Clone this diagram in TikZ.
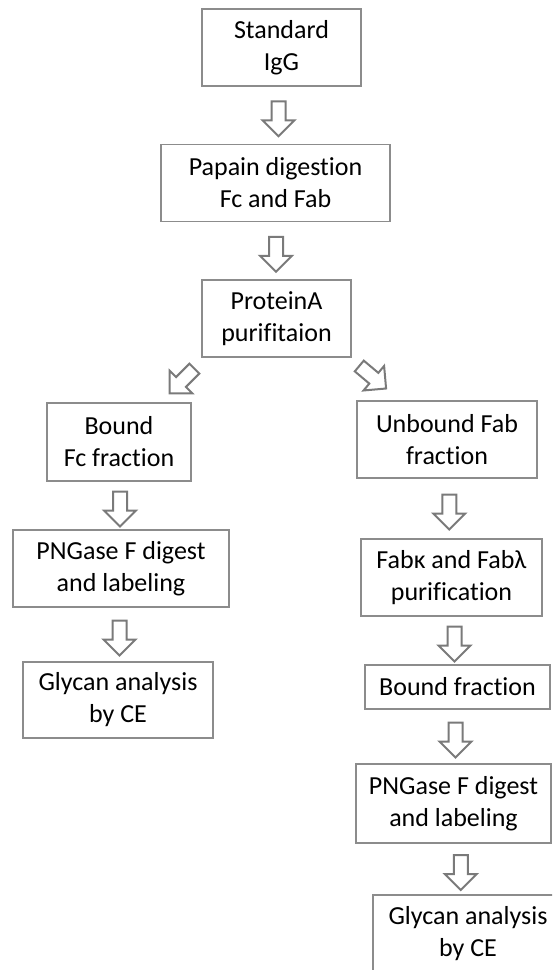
\documentclass[tikz,border=0pt]{standalone}
\usepackage{fontspec}
\setmainfont{Carlito}[Ligatures=NoCommon]
\usetikzlibrary{shapes.arrows,calc}
\definecolor{BoxGray}{HTML}{8C8C8C}
\definecolor{ArrowGray}{HTML}{7A7A7A}

\begin{document}
\begin{tikzpicture}[x=1pt,y=-1pt,
  stage/.style={draw=BoxGray,line width=1.3pt,fill=white,align=center,inner sep=0pt,font=\fontsize{26}{32}\selectfont,minimum height=77pt},
  flow/.style={single arrow,draw=ArrowGray,line width=2pt,fill=white,inner sep=6pt,minimum height=35pt,single arrow head extend=9pt,rotate=#1},
  flow/.default=-90]
\useasboundingbox (0,0) rectangle (552,970);
\clip (0,0) rectangle (552,970);
% common trunk and Fc branch
\node[stage,minimum width=159pt](igg) at (281.5,47.5){Standard\\IgG};
\node[stage,minimum width=229pt](papain) at (275.5,183){Papain digestion\\Fc and Fab};
\node[stage,minimum width=149pt](protA) at (276.5,318.5){ProteinA\\purifitaion};
\node[stage,minimum width=144pt,minimum height=78pt](fc) at (119,442){Bound\\Fc fraction};
\node[stage,minimum width=216pt](pngL) at (121,568.5){PNGase F digest\\and labeling};
\node[stage,minimum width=190pt,minimum height=76pt](glyL) at (118,700){Glycan analysis\\by CE};
% Fab branch
\node[stage,minimum width=180pt](fab) at (447,439.5){Unbound Fab\\fraction};
\node[stage,minimum width=181pt](kl) at (451.5,577.5){Fabκ and Fabλ\\purification};
\node[stage,minimum width=185pt,minimum height=44pt](bound) at (457.5,687){Bound fraction};
\node[stage,minimum width=195pt,minimum height=79pt](pngR) at (453.5,803.5){PNGase F digest\\and labeling};
\node[stage,minimum width=190pt](glyR) at (468,933.5){Glycan analysis\\by CE};
% block arrows
\foreach \p/\q in {igg/papain,papain/protA,fc/pngL,pngL/glyL,fab/kl,kl/bound,bound/pngR,pngR/glyR}{\node[flow](\p-\q) at ($(\p.south)!.5!(\q.north)$){};}
\node[flow=-135](protA-fc) at ($(protA.south west)!.5!(fc.north east)+(-12,-1.5)$){};
\node[flow=-40](protA-fab) at ($(protA.south east)!.5!(fab.north west)+(16,-4)$){};
\end{tikzpicture}
\end{document}
